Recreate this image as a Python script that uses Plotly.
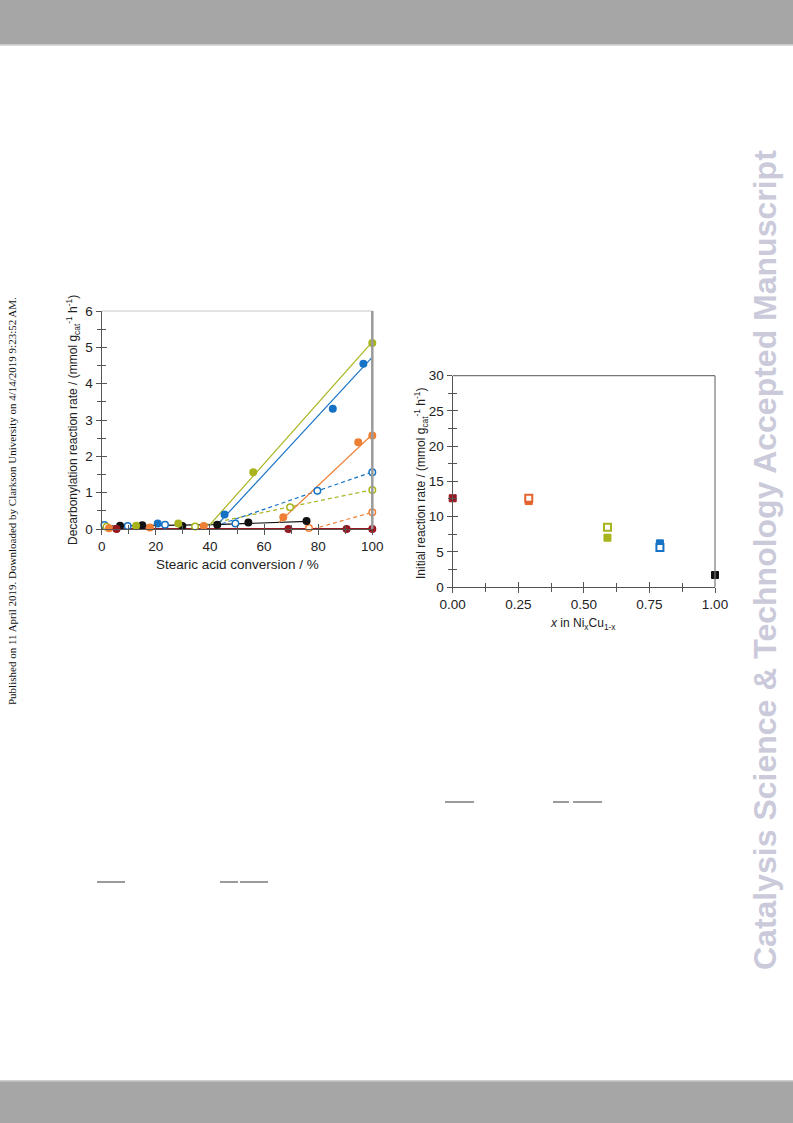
import plotly.graph_objects as go

W, H = 793, 1123

# ---------------- Left chart data ----------------
green_fill_x = [12.7, 28.3, 56.0, 100]
green_fill_y = [0.09, 0.15, 1.56, 5.12]
green_open_x = [1.8, 34.5, 69.6, 100]
green_open_y = [0.06, 0.07, 0.60, 1.07]
blue_fill_x = [20.7, 45.4, 85.4, 96.7]
blue_fill_y = [0.15, 0.40, 3.31, 4.55]
blue_open_x = [1.0, 9.6, 23.4, 49.4, 79.7, 100]
blue_open_y = [0.11, 0.08, 0.12, 0.15, 1.05, 1.56]
orange_fill_x = [2.7, 17.8, 37.7, 67.1, 94.8, 100]
orange_fill_y = [0.02, 0.04, 0.08, 0.32, 2.39, 2.57]
orange_open_x = [76.6, 100]
orange_open_y = [0.03, 0.46]
black_x = [6.8, 15.0, 29.8, 42.7, 54.2, 75.7]
black_y = [0.09, 0.10, 0.08, 0.12, 0.18, 0.22]
red_x = [5.5, 36.1, 69.0, 90.5, 100]
red_y = [0.0, -0.02, 0.0, 0.0, 0.0]

# fitted lines
green_line_x, green_line_y = [40, 100], [0.12, 5.15]
blue_line_x, blue_line_y = [42.5, 100], [0.10, 4.73]
orange_line_x, orange_line_y = [65.5, 100], [0.18, 2.60]
blue_dash_x, blue_dash_y = [42, 100], [0.08, 1.57]
green_dash_x, green_dash_y = [38, 100], [0.12, 1.08]
orange_dash_x, orange_dash_y = [78, 100], [0.0, 0.46]
black_line_x, black_line_y = [0, 42, 76], [0.08, 0.12, 0.21]
red_line_x, red_line_y = [0, 100], [0.0, 0.0]

# ---------------- Right chart data ----------------
comp_fill_x = [0.0, 0.29, 0.59, 0.79, 1.0]
comp_fill_y = [12.6, 12.2, 7.0, 6.2, 1.7]
comp_open_x = [0.29, 0.59, 0.79]
comp_open_y = [12.6, 8.5, 5.6]

GREEN = "#A8B41C"
BLUE = "#1672C4"
ORANGE = "#EE7F35"
ORANGE2 = "#E2632C"
DRED = "#97181E"
BLACK = "#111111"
AX = "#555555"

fill_colors = [DRED, ORANGE2, GREEN, BLUE, BLACK]
open_colors = [ORANGE2, GREEN, BLUE]

fig = go.Figure()

def line(x, y, c, dash="solid", w=1.2):
    fig.add_trace(go.Scatter(x=x, y=y, mode="lines", line=dict(color=c, width=w, dash=dash),
                             xaxis="x", yaxis="y", showlegend=False, hoverinfo="skip"))

def pts(x, y, c, filled=True):
    fig.add_trace(go.Scatter(x=x, y=y, mode="markers", cliponaxis=False,
                             marker=dict(symbol="circle", size=6.5,
                                         color=c if filled else "white",
                                         line=dict(color=c, width=1.5)),
                             xaxis="x", yaxis="y", showlegend=False))

DASH = "4px,3px"
line(black_line_x, black_line_y, BLACK)
line(green_dash_x, green_dash_y, GREEN, DASH)
line(blue_dash_x, blue_dash_y, BLUE, DASH)
line(orange_dash_x, orange_dash_y, ORANGE, DASH)
line(green_line_x, green_line_y, GREEN)
line(blue_line_x, blue_line_y, BLUE)
line(orange_line_x, orange_line_y, ORANGE)
line(red_line_x, red_line_y, DRED, w=2)

pts(blue_open_x, blue_open_y, BLUE, False)
pts(green_open_x, green_open_y, GREEN, False)
pts(orange_open_x, orange_open_y, ORANGE, False)
pts(black_x, black_y, BLACK)
pts(green_fill_x, green_fill_y, GREEN)
pts(blue_fill_x, blue_fill_y, BLUE)
pts(orange_fill_x, orange_fill_y, ORANGE)
pts(red_x, red_y, DRED)

fig.add_trace(go.Scatter(x=comp_fill_x, y=comp_fill_y, mode="markers", cliponaxis=False,
                         marker=dict(symbol="square", size=7, color=fill_colors,
                                     line=dict(color=fill_colors, width=1)),
                         xaxis="x2", yaxis="y2", showlegend=False))
fig.add_trace(go.Scatter(x=comp_open_x, y=comp_open_y, mode="markers", cliponaxis=False,
                         marker=dict(symbol="square", size=7, color="white",
                                     line=dict(color=open_colors, width=2)),
                         xaxis="x2", yaxis="y2", showlegend=False))
# invisible traces to anchor the inward-tick overlay axes
fig.add_trace(go.Scatter(x=[None], y=[None], xaxis="x3", yaxis="y3", showlegend=False))
fig.add_trace(go.Scatter(x=[None], y=[None], xaxis="x4", yaxis="y4", showlegend=False))

def px_x(p):
    return p / W

def px_y(p):
    return 1 - p / H

L_dom_x = [px_x(101.7), px_x(372.3)]
L_dom_y = [px_y(529), px_y(311)]
R_dom_x = [px_x(452.7), px_x(715)]
R_dom_y = [px_y(587), px_y(375.7)]

tickfont = dict(family="Liberation Sans, Arial", size=13.5, color="#222")

def ax(dom, rng, dtick, minor_dtick, anchor, ticks="outside", labels=True, **kw):
    d = dict(domain=dom, range=rng, dtick=dtick, tick0=0, ticks=ticks, ticklen=5, tickwidth=1,
             tickcolor=AX, showline=True, linecolor=AX, linewidth=1.3, showgrid=False,
             zeroline=False, showticklabels=labels, tickfont=tickfont, anchor=anchor,
             automargin=False,
             minor=dict(dtick=minor_dtick, tick0=0, ticks=ticks, ticklen=4, tickcolor=AX, showgrid=False))
    d.update(kw)
    return d

fig.update_layout(
    template="none",
    width=W, height=H, margin=dict(l=0, r=0, t=0, b=0, pad=0, autoexpand=False),
    paper_bgcolor="white", plot_bgcolor="rgba(0,0,0,0)",
    xaxis=ax(L_dom_x, [0, 100], 20, 10, "y"),
    yaxis=ax(L_dom_y, [0, 6], 1, 0.5, "x"),
    xaxis3=ax(L_dom_x, [0, 100], 20, 10, "y3", ticks="inside", labels=False, overlaying="x", showline=False),
    yaxis3=ax(L_dom_y, [0, 6], 1, 0.5, "x3", ticks="inside", labels=False, overlaying="y", showline=False),
    xaxis2=ax(R_dom_x, [0, 1], 0.25, 0.125, "y2", tickformat=".2f"),
    yaxis2=ax(R_dom_y, [0, 30], 5, 2.5, "x2"),
    xaxis4=ax(R_dom_x, [0, 1], 0.25, 0.125, "y4", ticks="inside", labels=False, overlaying="x2", showline=False),
    yaxis4=ax(R_dom_y, [0, 30], 5, 2.5, "x4", ticks="inside", labels=False, overlaying="y2", showline=False),
)

shapes = []
# header and footer bars
shapes.append(dict(type="rect", xref="paper", yref="paper", x0=0, x1=1, y0=px_y(45), y1=px_y(0),
                   fillcolor="#A6A6A6", line=dict(width=0), layer="below"))
shapes.append(dict(type="line", xref="paper", yref="paper", x0=0, x1=1, y0=px_y(45), y1=px_y(45),
                   line=dict(color="#D0D0D0", width=1.5)))
shapes.append(dict(type="rect", xref="paper", yref="paper", x0=0, x1=1, y0=0, y1=px_y(1081),
                   fillcolor="#A6A6A6", line=dict(width=0), layer="below"))
shapes.append(dict(type="line", xref="paper", yref="paper", x0=0, x1=1, y0=px_y(1081), y1=px_y(1081),
                   line=dict(color="#C0C0C0", width=1.5)))
# frames
shapes.append(dict(type="line", xref="x domain", yref="y domain", x0=0, x1=1, y0=1, y1=1,
                   line=dict(color="#C8C8C8", width=1)))
shapes.append(dict(type="line", xref="x domain", yref="y domain", x0=1, x1=1, y0=0, y1=1,
                   line=dict(color="#9A9A9A", width=2.5)))
shapes.append(dict(type="line", xref="x2 domain", yref="y2 domain", x0=0, x1=1, y0=1, y1=1,
                   line=dict(color="#777777", width=1.2)))
shapes.append(dict(type="line", xref="x2 domain", yref="y2 domain", x0=1, x1=1, y0=0, y1=1,
                   line=dict(color="#777777", width=1.2)))
# short rule fragments of the page text
for (a, b, yy) in [(445, 474, 802), (553, 569, 802), (573, 602, 802),
                   (97, 125, 882), (220, 238, 882), (240, 268, 882)]:
    shapes.append(dict(type="line", xref="paper", yref="paper", x0=px_x(a), x1=px_x(b),
                       y0=px_y(yy), y1=px_y(yy), line=dict(color="#7A7A7A", width=1.5)))
fig.update_layout(shapes=shapes)

tf = dict(family="Liberation Sans, Arial", size=12, color="#222")
tf2 = dict(family="Liberation Sans, Arial", size=13.5, color="#222")
ann = [
    dict(text="Decarbonylation reaction rate / (mmol g<sub>cat</sub><sup>-1</sup> h<sup>-1</sup>)",
         x=px_x(73), y=px_y(420), textangle=-90, font=tf),
    dict(text="Stearic acid conversion / %", x=px_x(237), y=px_y(564), font=tf2),
    dict(text="Initial reaction rate / (mmol g<sub>cat</sub><sup>-1</sup> h<sup>-1</sup>)",
         x=px_x(421), y=px_y(483), textangle=-90, font=tf),
    dict(text="<i>x</i> in Ni<sub>x</sub>Cu<sub>1-x</sub>", x=px_x(583), y=px_y(624), font=tf),
    dict(text="<b>Catalysis Science &amp; Technology Accepted Manuscript</b>",
         x=px_x(765), y=px_y(560), textangle=-90,
         font=dict(family="Liberation Sans, Arial", size=32, color="#CACADA")),
    dict(text="Published on 11 April 2019. Downloaded by Clarkson University on 4/14/2019 9:23:52 AM.",
         x=px_x(12), y=px_y(501), textangle=-90,
         font=dict(family="Liberation Serif, Times New Roman", size=11, color="#111")),
]
for a in ann:
    a.update(xref="paper", yref="paper", showarrow=False, xanchor="center", yanchor="middle")
fig.update_layout(annotations=ann)

fig.write_html("out.html", config={"displayModeBar": False},
               post_script="document.body.style.margin='0';document.body.style.overflow='hidden';")
